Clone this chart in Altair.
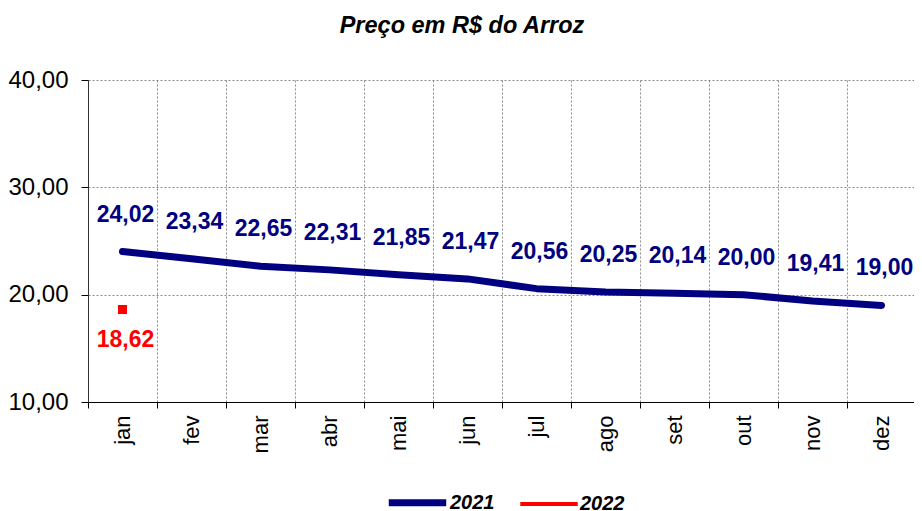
import altair as alt
import pandas as pd

months = ["jan", "fev", "mar", "abr", "mai", "jun", "jul", "ago", "set", "out", "nov", "dez"]
v2021 = [24.02, 23.34, 22.65, 22.31, 21.85, 21.47, 20.56, 20.25, 20.14, 20.00, 19.41, 19.00]
v2022 = [18.62]

df = pd.DataFrame({
    "mes": months + months[:len(v2022)],
    "valor": v2021 + v2022,
    "ano": ["2021"] * len(v2021) + ["2022"] * len(v2022),
})

FONT = "Liberation Sans, Arial"
NAVY = "#000080"
RED = "#FF0000"
fmt = "replace(format(datum.valor, '.2f'), '.', ',')"

x = alt.X(
    "mes:N", sort=months, title=None,
    scale=alt.Scale(paddingInner=0, paddingOuter=0),
    axis=alt.Axis(
        tickBand="extent", labelAngle=270, labelFontSize=22, labelFont=FONT,
        labelColor="black", labelPadding=7, tickSize=6, tickColor="black",
        domainColor="black", grid=True, gridDash=[2, 2], gridColor="#888888",
        gridWidth=1,
    ),
)
y = alt.Y(
    "valor:Q", title=None,
    scale=alt.Scale(domain=[10, 40]),
    axis=alt.Axis(
        values=[10, 20, 30, 40],
        labelExpr="replace(format(datum.value, '.2f'), '.', ',')",
        labelFontSize=24, labelFont=FONT, labelColor="black", labelPadding=13,
        tickSize=7, tickColor="black", domainColor="#333333",
        gridDash=[2, 2], gridColor="#888888", gridWidth=1,
    ),
)

leg = dict(
    title=None, orient="none", direction="horizontal",
    legendX=297, legendY=390, symbolType="stroke", symbolSize=3300,
    labelFontSize=20, labelFont=FONT, labelFontWeight="bold",
    labelFontStyle="italic", labelColor="black", columnPadding=17,
    labelOffset=0,
)

base = alt.Chart(df)

lines = base.mark_line(strokeCap="round", strokeJoin="round").encode(
    x=x, y=y,
    color=alt.Color(
        "ano:N",
        scale=alt.Scale(domain=["2021", "2022"], range=[NAVY, RED]),
        legend=alt.Legend(**leg),
    ),
    strokeWidth=alt.StrokeWidth(
        "ano:N",
        scale=alt.Scale(domain=["2021", "2022"], range=[7, 4]),
        legend=alt.Legend(**leg),
    ),
)

squares = base.transform_filter("datum.ano == '2022'").mark_square(
    size=81, color=RED, opacity=1, filled=True
).encode(x=x, y=y)

labels21 = base.transform_filter("datum.ano == '2021'").transform_calculate(
    lbl=fmt
).mark_text(
    dy=-37, dx=3, fontSize=23, fontWeight="bold", font=FONT, color=NAVY
).encode(x=x, y=y, text="lbl:N")

labels22 = base.transform_filter("datum.ano == '2022'").transform_calculate(
    lbl=fmt
).mark_text(
    dy=31, dx=3, fontSize=23, fontWeight="bold", font=FONT, color=RED
).encode(x=x, y=y, text="lbl:N")

chart = alt.layer(lines, squares, labels21, labels22).properties(
    width=828, height=322,
    title=alt.TitleParams(
        "Preço em R$ do Arroz", fontSize=23.5, fontStyle="italic",
        fontWeight="bold", font=FONT, color="black", offset=31, dx=-40,
        anchor="middle",
    ),
    autosize=alt.AutoSizeParams(type="none"),
    padding={"left": 80, "top": 72, "right": -2, "bottom": 108},
).configure_view(strokeWidth=0)

chart.save("out.html", embed_options={"renderer": "svg", "actions": False})
